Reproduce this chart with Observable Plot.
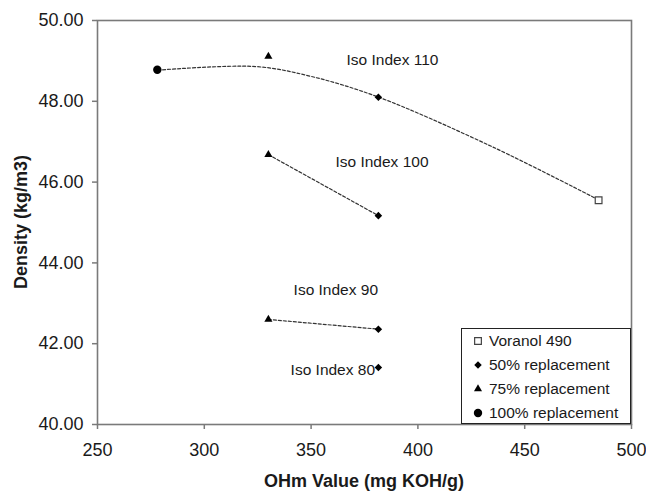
<!DOCTYPE html>
<html><head><meta charset="utf-8">
<script src="https://cdn.jsdelivr.net/npm/d3@7"></script>
<script src="https://cdn.jsdelivr.net/npm/@observablehq/plot@0.6"></script>
<style>
body{margin:0;background:#fff;font-family:"Liberation Sans",Arial,sans-serif;}
#chart{position:relative;width:646px;height:491px;}
#legend{position:absolute;left:461px;top:328px;width:170px;height:96px;box-sizing:border-box;border:1px solid #222;background:#fff;font-size:15.5px;color:#1a1a1a;}
#legend .row{position:absolute;left:0;height:24px;display:flex;align-items:center;white-space:nowrap;}
#legend svg{margin-left:10px;margin-right:5px;}
.title{position:absolute;font-weight:bold;font-size:18px;line-height:18px;color:#1a1a1a;text-align:center;white-space:nowrap;}
</style></head><body><div id="chart"></div>
<script>
// ---- data ----
const seriesNames = ["Voranol 490", "50% replacement", "75% replacement", "100% replacement"];
const voranolX = [484.6];
const voranolY = [45.55];
const rep50X = [381.5, 381.5, 381.5, 381.5];
const rep50Y = [48.10, 45.17, 42.36, 41.41];
const rep75X = [330, 330, 330];
const rep75Y = [49.11, 46.68, 42.60];
const rep100X = [278];
const rep100Y = [48.78];

// dashed trend line of Iso Index 110
const trend110X = [278.2, 324.0, 349.7, 381.2, 435.4, 484.6];
const trend110Y = [48.77, 48.86, 48.62, 48.11, 46.86, 45.56];
// straight dashed lines for Iso Index 100 and 90
const isoLineNames = ["Iso Index 100", "Iso Index 100", "Iso Index 90", "Iso Index 90"];
const isoLineX = [330, 381.5, 330, 381.5];
const isoLineY = [46.68, 45.17, 42.60, 42.36];

// annotation labels (data units)
const isoLabels = ["Iso Index 110", "Iso Index 100", "Iso Index 90", "Iso Index 80"];
const isoLabelX = [366.6, 361.4, 341.8, 340.4];
const isoLabelY = [49.01, 46.49, 43.32, 41.34];

const xTicks = [250, 300, 350, 400, 450, 500];
const yTicks = [40, 42, 44, 46, 48, 50];
const xTitle = "OHm Value (mg KOH/g)";
const yTitle = "Density (kg/m3)";

// ---- build tables ----
const symbolOf = {"Voranol 490": "square", "50% replacement": "diamond2", "75% replacement": "triangle", "100% replacement": "circle"};
const rOf = {"Voranol 490": 3.8, "50% replacement": 3.4, "75% replacement": 3.0, "100% replacement": 4.2};
const xs = [voranolX, rep50X, rep75X, rep100X];
const ys = [voranolY, rep50Y, rep75Y, rep100Y];
const points = seriesNames.flatMap((s, k) => xs[k].map((x, i) => ({series: s, x, y: ys[k][i]})));
const trend110 = trend110X.map((x, i) => ({x, y: trend110Y[i]}));
const isoLines = isoLineX.map((x, i) => ({name: isoLineNames[i], x, y: isoLineY[i]}));
const labels = isoLabels.map((t, i) => ({t, x: isoLabelX[i], y: isoLabelY[i]}));

const lineStyle = {stroke: "#333", strokeWidth: 1.2, strokeDasharray: "3,2"};
const font = '"Liberation Sans", Arial, sans-serif';

const dotMarks = seriesNames.map(s => Plot.dot(points.filter(d => d.series === s), {
  x: "x", y: "y", symbol: symbolOf[s], r: rOf[s],
  fill: s === "Voranol 490" ? "white" : "#000",
  stroke: s === "Voranol 490" ? "#444" : "none",
  strokeWidth: 1.2
}));

const chart = Plot.plot({
  width: 646, height: 491,
  marginLeft: 97, marginRight: 15, marginTop: 20, marginBottom: 67,
  style: {fontFamily: font, background: "white", color: "#1a1a1a"},
  x: {domain: [250, 500]},
  y: {domain: [40, 50]},
  marks: [
    Plot.frame({stroke: "#7a7a7a", strokeWidth: 1.6}),
    Plot.axisX({ticks: xTicks, tickSize: 5, tickPadding: 14, tickFormat: d3.format("d"), fontSize: 18, label: null, stroke: "#7a7a7a", strokeWidth: 1.5}),
    Plot.axisY({ticks: yTicks, tickSize: 5, tickPadding: 9, tickFormat: d3.format(".2f"), fontSize: 18, label: null, stroke: "#7a7a7a", strokeWidth: 1.5}),
    Plot.line(trend110, {x: "x", y: "y", curve: "catmull-rom", ...lineStyle}),
    Plot.line(isoLines, {x: "x", y: "y", z: "name", ...lineStyle}),
    ...dotMarks,
    Plot.text(labels, {x: "x", y: "y", text: "t", textAnchor: "start", fontSize: 15.5, fill: "#1a1a1a"})
  ]
});

const root = document.getElementById("chart");
root.appendChild(chart);

// axis titles
const xt = document.createElement("div");
xt.className = "title"; xt.textContent = xTitle;
Object.assign(xt.style, {left: "97px", width: "534px", top: "472px"});
root.appendChild(xt);
const yt = document.createElement("div");
yt.className = "title"; yt.textContent = yTitle;
Object.assign(yt.style, {left: "-129px", width: "300px", top: "213px", height: "18px", transform: "rotate(-90deg)", transformOrigin: "50% 50%"});
root.appendChild(yt);

// legend
const legend = document.createElement("div");
legend.id = "legend";
const d3sym = {square: d3.symbolSquare, diamond2: d3.symbolDiamond2, triangle: d3.symbolTriangle, circle: d3.symbolCircle};
seriesNames.forEach((s, i) => {
  const row = document.createElement("div");
  row.className = "row";
  row.style.top = (i * 24) + "px";
  const r = rOf[s];
  const path = d3.symbol(d3sym[symbolOf[s]], r * r * Math.PI)();
  const fill = s === "Voranol 490" ? "white" : "#000";
  const stroke = s === "Voranol 490" ? "#444" : "none";
  row.innerHTML = `<svg width="12" height="12" viewBox="-6 -6 12 12"><path d="${path}" fill="${fill}" stroke="${stroke}" stroke-width="1.2"/></svg><span>${s}</span>`;
  legend.appendChild(row);
});
root.appendChild(legend);
</script>
</body></html>
